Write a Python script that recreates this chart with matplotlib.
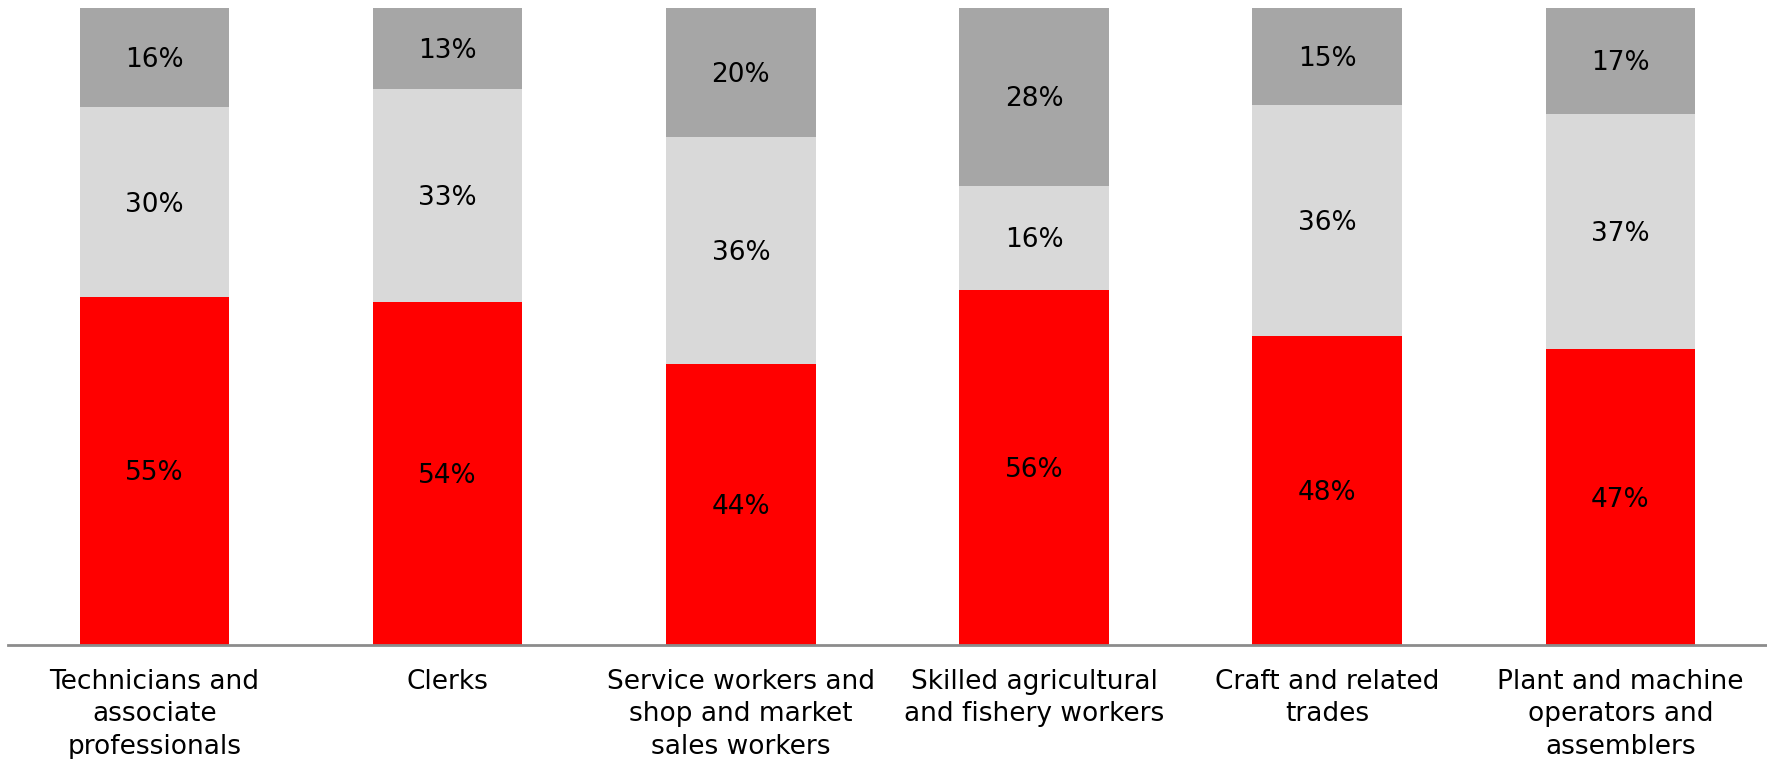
import numpy as np
import matplotlib.pyplot as plt

categories = [
    "Technicians and\nassociate\nprofessionals",
    "Clerks",
    "Service workers and\nshop and market\nsales workers",
    "Skilled agricultural\nand fishery workers",
    "Craft and related\ntrades",
    "Plant and machine\noperators and\nassemblers",
]
# segment shares (bar heights)
red_vals = [54.7, 53.8, 44.2, 55.8, 48.5, 46.4]
light_vals = [29.7, 33.5, 35.6, 16.3, 36.3, 37.0]
dark_vals = [15.6, 12.7, 20.2, 27.9, 15.2, 16.6]
# printed labels
red_labels = ["55%", "54%", "44%", "56%", "48%", "47%"]
light_labels = ["30%", "33%", "36%", "16%", "36%", "37%"]
dark_labels = ["16%", "13%", "20%", "28%", "15%", "17%"]

fig = plt.figure(figsize=(17.67, 7.59), dpi=100)
ax = fig.add_axes([0.0045, 0.150, 0.9955, 0.8395])

x = np.arange(len(categories))
red = np.array(red_vals)
light = np.array(light_vals)
dark = np.array(dark_vals)
w = 0.51

segs = [
    (red, np.zeros_like(red), "#FF0000", red_labels),
    (light, red, "#D9D9D9", light_labels),
    (dark, red + light, "#A6A6A6", dark_labels),
]
for vals, bottom, color, labels in segs:
    ax.bar(x, vals, w, bottom=bottom, color=color, edgecolor="none")
    for xi, b, v, lab in zip(x, bottom, vals, labels):
        ax.text(xi, b + v / 2 - 0.4, lab, ha="center", va="center", fontsize=19, color="black")

ax.set_xlim(-0.5, 5.5)
ax.set_ylim(0, 100)
ax.set_xticks(x)
ax.set_xticklabels(categories, fontsize=19, linespacing=1.32)
ax.tick_params(axis="x", length=0, pad=17)
ax.set_yticks([])
for s in ["top", "right", "left"]:
    ax.spines[s].set_visible(False)
ax.spines["bottom"].set_color("#8C8C8C")
ax.spines["bottom"].set_linewidth(2)

plt.savefig("out.png", dpi=100)
